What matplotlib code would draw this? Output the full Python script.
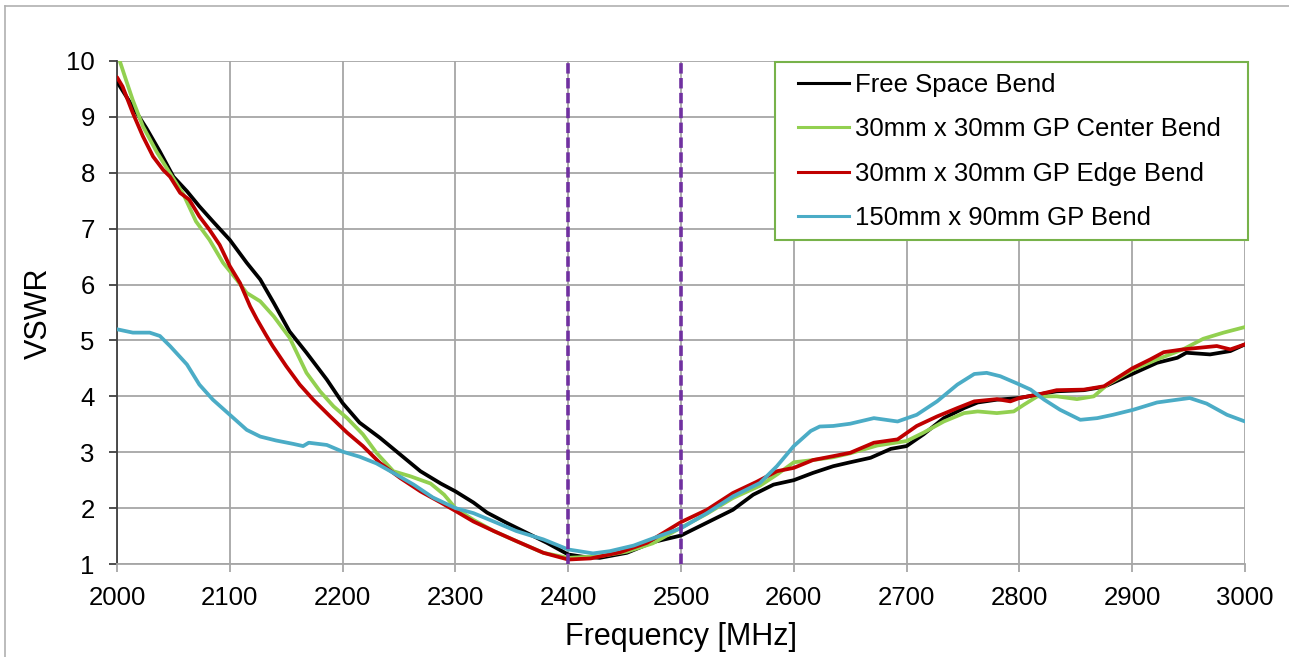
import matplotlib
matplotlib.use("Agg")
import matplotlib.pyplot as plt
from matplotlib.lines import Line2D
from matplotlib.patches import Rectangle

free_f = [2000, 2014, 2026, 2038, 2050, 2062, 2073, 2085, 2100, 2115, 2127, 2139, 2153, 2168,
          2186, 2200, 2215, 2233, 2251, 2269, 2287, 2300, 2316, 2328, 2345, 2363, 2381, 2400,
          2413, 2428, 2452, 2475, 2500, 2523, 2546, 2564, 2582, 2600, 2617, 2635, 2650, 2668,
          2686, 2700, 2715, 2733, 2751, 2763, 2780, 2800, 2816, 2833, 2857, 2875, 2900, 2922,
          2940, 2948, 2969, 2987, 3000]
free_v = [9.63, 9.18, 8.80, 8.38, 7.93, 7.67, 7.40, 7.13, 6.80, 6.39, 6.09, 5.67, 5.16, 4.78,
          4.30, 3.88, 3.53, 3.26, 2.96, 2.66, 2.44, 2.30, 2.10, 1.92, 1.74, 1.56, 1.38, 1.17,
          1.13, 1.11, 1.20, 1.39, 1.51, 1.74, 1.97, 2.24, 2.42, 2.50, 2.63, 2.75, 2.82, 2.90,
          3.06, 3.11, 3.32, 3.61, 3.79, 3.89, 3.94, 3.97, 4.03, 4.09, 4.11, 4.17, 4.40, 4.60,
          4.69, 4.78, 4.75, 4.81, 4.93]

center_f = [2000, 2008, 2014, 2023, 2035, 2047, 2059, 2070, 2082, 2094, 2106, 2115, 2127, 2139,
            2153, 2168, 2180, 2192, 2204, 2218, 2230, 2245, 2260, 2278, 2290, 2300, 2316, 2334,
            2354, 2378, 2400, 2428, 2452, 2475, 2500, 2523, 2546, 2570, 2585, 2600, 2617, 2635,
            2650, 2674, 2700, 2715, 2733, 2751, 2763, 2780, 2795, 2804, 2816, 2833, 2851, 2866,
            2878, 2900, 2922, 2945, 2963, 2981, 3000]
center_v = [10.15, 9.66, 9.30, 8.83, 8.38, 7.99, 7.61, 7.13, 6.80, 6.39, 6.09, 5.85, 5.70, 5.43,
            5.05, 4.42, 4.09, 3.82, 3.61, 3.32, 2.99, 2.66, 2.57, 2.44, 2.24, 2.00, 1.79, 1.59,
            1.41, 1.20, 1.11, 1.14, 1.22, 1.37, 1.65, 1.90, 2.18, 2.40, 2.60, 2.82, 2.86, 2.91,
            2.98, 3.12, 3.20, 3.35, 3.55, 3.70, 3.73, 3.70, 3.73, 3.85, 4.00, 4.00, 3.95, 4.00,
            4.21, 4.47, 4.66, 4.84, 5.03, 5.14, 5.24]

edge_f = [2000, 2005, 2014, 2023, 2032, 2041, 2047, 2056, 2064, 2073, 2082, 2091, 2100, 2109,
          2118, 2124, 2132, 2138, 2150, 2162, 2174, 2189, 2204, 2218, 2233, 2251, 2269, 2287,
          2300, 2316, 2334, 2354, 2378, 2400, 2420, 2446, 2470, 2500, 2523, 2546, 2567, 2585,
          2600, 2617, 2635, 2650, 2671, 2692, 2709, 2727, 2745, 2760, 2780, 2792, 2800, 2816,
          2833, 2857, 2875, 2900, 2916, 2928, 2945, 2975, 2987, 3000]
edge_v = [9.71, 9.54, 9.07, 8.65, 8.29, 8.05, 7.93, 7.64, 7.52, 7.22, 6.98, 6.71, 6.33, 6.03,
          5.61, 5.38, 5.10, 4.90, 4.54, 4.21, 3.94, 3.64, 3.35, 3.11, 2.81, 2.54, 2.30, 2.10,
          1.95, 1.76, 1.59, 1.41, 1.20, 1.08, 1.10, 1.21, 1.38, 1.75, 1.97, 2.27, 2.47, 2.66,
          2.72, 2.86, 2.93, 2.99, 3.17, 3.23, 3.47, 3.64, 3.79, 3.91, 3.95, 3.91, 3.97, 4.03,
          4.11, 4.12, 4.18, 4.50, 4.66, 4.79, 4.84, 4.90, 4.84, 4.93]

large_f = [2000, 2014, 2029, 2038, 2047, 2062, 2073, 2085, 2100, 2115, 2127, 2141, 2156, 2165,
           2170, 2186, 2200, 2215, 2230, 2245, 2263, 2280, 2300, 2316, 2334, 2354, 2378, 2400,
           2422, 2437, 2458, 2478, 2500, 2523, 2546, 2570, 2585, 2600, 2615, 2623, 2635, 2650,
           2671, 2692, 2709, 2727, 2745, 2760, 2771, 2783, 2798, 2810, 2822, 2836, 2854, 2869,
           2883, 2901, 2922, 2940, 2951, 2966, 2984, 3000]
large_v = [5.20, 5.14, 5.14, 5.08, 4.90, 4.57, 4.21, 3.94, 3.67, 3.40, 3.28, 3.21, 3.15, 3.11,
           3.17, 3.13, 3.01, 2.92, 2.80, 2.63, 2.42, 2.19, 2.00, 1.91, 1.76, 1.59, 1.44, 1.26,
           1.19, 1.23, 1.33, 1.48, 1.64, 1.91, 2.21, 2.45, 2.75, 3.11, 3.38, 3.46, 3.47, 3.51,
           3.61, 3.55, 3.67, 3.91, 4.21, 4.40, 4.42, 4.36, 4.23, 4.12, 3.94, 3.76, 3.58, 3.61,
           3.67, 3.76, 3.89, 3.94, 3.97, 3.87, 3.67, 3.55]

band_edges = [2400, 2500]
x_ticks = list(range(2000, 3001, 100))
y_ticks = list(range(1, 11))

series = [
    ("Free Space Bend", free_f, free_v, "#000000"),
    ("30mm x 30mm GP Center Bend", center_f, center_v, "#92D050"),
    ("30mm x 30mm GP Edge Bend", edge_f, edge_v, "#C00000"),
    ("150mm x 90mm GP Bend", large_f, large_v, "#4BACC6"),
]

plt.rcParams["font.family"] = ["Liberation Sans", "DejaVu Sans"]
plt.rcParams["lines.scale_dashes"] = False

W, H = 1289, 657
fig = plt.figure(figsize=(W / 100, H / 100), dpi=100)
ax = fig.add_axes([117 / W, 1 - 564 / H, (1245 - 117) / W, (564 - 61) / H])

grid_c = "#A6A6A6"
for name, f, v, c in series:
    ax.plot(f, v, color=c, lw=2.7, label=name, zorder=3,
            solid_joinstyle="round", solid_capstyle="round")
for b in band_edges:
    ax.axvline(b, color="#7030A0", lw=2.6, dashes=(7.5, 3.2), zorder=4)

ax.set_xlim(2000, 3000)
ax.set_ylim(1, 10)
ax.set_xticks(x_ticks)
ax.set_yticks(y_ticks)
ax.grid(True, color=grid_c, lw=1.3, zorder=0)
for s in ("top", "right"):
    ax.spines[s].set_visible(False)
ax.spines["left"].set_color("#404040")
ax.spines["left"].set_linewidth(1.3)
ax.spines["bottom"].set_color(grid_c)
ax.spines["bottom"].set_linewidth(1.3)
ax.tick_params(axis="y", length=5.5, width=1.3, color="#404040", pad=10.5, labelsize=18.5)
ax.tick_params(axis="x", length=6, width=1.3, color=grid_c, pad=9.5, labelsize=18.5)

fig.text(39 / W, 1 - 313 / H, "VSWR", rotation=90, ha="center", va="center", fontsize=22)
fig.text(681 / W, 1 - 645 / H, "Frequency [MHz]", ha="center", va="baseline", fontsize=22)

# legend: frame drawn separately so the padding matches
fig.patches.append(Rectangle((775 / W, 1 - 240 / H), (1248 - 775) / W, (240 - 62) / H,
                             transform=fig.transFigure, fill=True, facecolor="white",
                             edgecolor="#77B24A", lw=1.5, zorder=5))
handles = [Line2D([], [], color=c, lw=2.2) for _, _, _, c in series]
fig.legend(handles, [s[0] for s in series], loc="upper left",
           bbox_to_anchor=(798 / W, 1 - 73 / H), frameon=False, fontsize=18.5,
           handlelength=2.0, handletextpad=0.2, labelspacing=0.79, borderpad=0,
           borderaxespad=0)

# outer chart border (cropped at right and bottom)
fig.add_artist(Line2D([5 / W, 1], [1 - 6 / H, 1 - 6 / H], transform=fig.transFigure,
                      color="#B0B0B0", lw=1.2))
fig.add_artist(Line2D([5 / W, 5 / W], [0, 1 - 6 / H], transform=fig.transFigure,
                      color="#B0B0B0", lw=1.2))

fig.savefig("out.png", dpi=100)
